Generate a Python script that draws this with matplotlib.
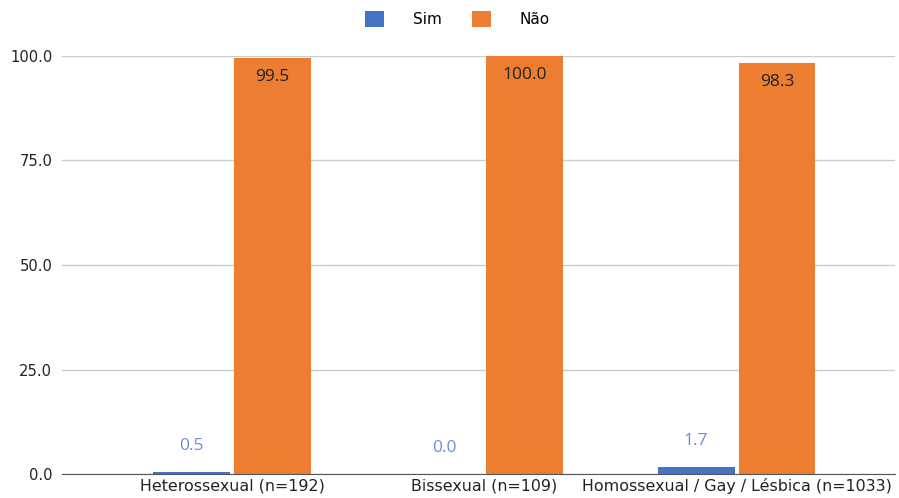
import matplotlib.pyplot as plt
import numpy as np

plt.rcParams['font.family'] = ['DejaVu Sans']

categories = ["Heterossexual (n=192)", "Bissexual (n=109)", "Homossexual / Gay / Lésbica (n=1033)"]
sim = [0.5, 0.0, 1.7]
nao = [99.5, 100.0, 98.3]
yticks = [0, 25, 50, 75, 100]

blue = "#4472C4"
orange = "#ED7D31"

fig = plt.figure(figsize=(8.99, 4.98), dpi=100)
ax = fig.add_axes([0.069, 0.048, 0.927, 0.840])

x = np.arange(len(categories))
w = 0.305
b1 = ax.bar(x - w / 2 - 0.008, sim, w, color=blue, label="Sim")
b2 = ax.bar(x + w / 2 + 0.008, nao, w, color=orange, label="Não")

for rect, v in zip(b1, sim):
    ax.annotate(f"{v:.1f}", (rect.get_x() + rect.get_width() / 2, v),
                xytext=(0, 13), textcoords="offset points", ha="center", va="bottom",
                color="#6a8fd8", fontsize=12.5, family="Open Sans")
for rect, v in zip(b2, nao):
    ax.annotate(f"{v:.1f}", (rect.get_x() + rect.get_width() / 2, v),
                xytext=(0, -8), textcoords="offset points", ha="center", va="top",
                color="#222222", fontsize=12.5, family="Open Sans")

ax.set_xlim(-0.675, 2.63)
ax.set_ylim(0, 100)
ax.set_yticks(yticks)
ax.set_yticklabels([f"{t:.1f}" for t in yticks])
ax.set_xticks(x)
ax.set_xticklabels(categories, fontsize=11.4)
ax.tick_params(axis="both", length=0, colors="#222222")
ax.tick_params(axis="y", labelsize=10.6, pad=7)
ax.tick_params(axis="x", pad=3)
ax.grid(axis="y", color="#cccccc", linewidth=1)
ax.set_axisbelow(True)
for s in ["top", "right", "left"]:
    ax.spines[s].set_visible(False)
ax.spines["bottom"].set_color("#555555")
ax.spines["bottom"].set_zorder(3)

fig.legend(loc="upper center", bbox_to_anchor=(0.509, 1.005), ncol=2, frameon=False,
           fontsize=11, handlelength=1.2, handleheight=1.2, columnspacing=2.0, handletextpad=1.9)

fig.savefig("out.png", dpi=100)
